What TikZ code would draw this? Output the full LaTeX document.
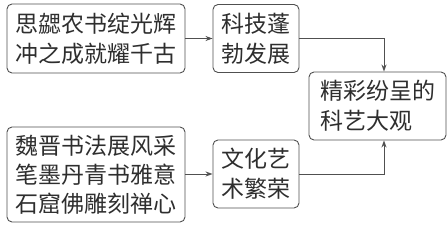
\documentclass[tikz,border=0pt]{standalone}
\usepackage{fontspec}
\newfontfamily\cjk{Noto Sans CJK SC}
\usetikzlibrary{arrows.meta}
\definecolor{linec}{HTML}{505050}
\definecolor{textc}{HTML}{2E2E2E}
\tikzset{
  boxnode/.style={draw=linec, line width=0.9pt, rounded corners=5pt, inner sep=0pt,
    text=textc, align=left, font=\cjk\fontsize{23}{30}\selectfont},
  conn/.style={draw=linec, line width=0.9pt, -{Stealth[length=7pt,width=5pt]}}
}
\begin{document}
\begin{tikzpicture}[x=1pt,y=-1pt]
\useasboundingbox (0,0) rectangle (448,225);
\node[boxnode, minimum width=178pt, minimum height=69pt] (b1) at (96,38.5) {思勰农书绽光辉\\冲之成就耀千古};
\node[boxnode, minimum width=178pt, minimum height=95pt, font=\cjk\fontsize{23}{29}\selectfont] (b2) at (96,174.5) {魏晋书法展风采\\笔墨丹青书雅意\\石窟佛雕刻禅心};
\node[boxnode, minimum width=86pt, minimum height=68pt] (b3) at (256,38.5) {科技蓬\\勃发展};
\node[boxnode, minimum width=86pt, minimum height=68pt] (b4) at (256,174) {文化艺\\术繁荣};
\node[boxnode, minimum width=137pt, minimum height=68pt] (b5) at (377.5,106) {精彩纷呈的\\科艺大观};
\draw[conn] (b1.east) -- (b3.west);
\draw[conn] (b2.east |- b4.west) -- (b4.west);
\draw[conn] (b3.east) -| ([xshift=6.5pt]b5.north);
\draw[conn] (b4.east) -| ([xshift=6.5pt]b5.south);
\end{tikzpicture}
\end{document}
